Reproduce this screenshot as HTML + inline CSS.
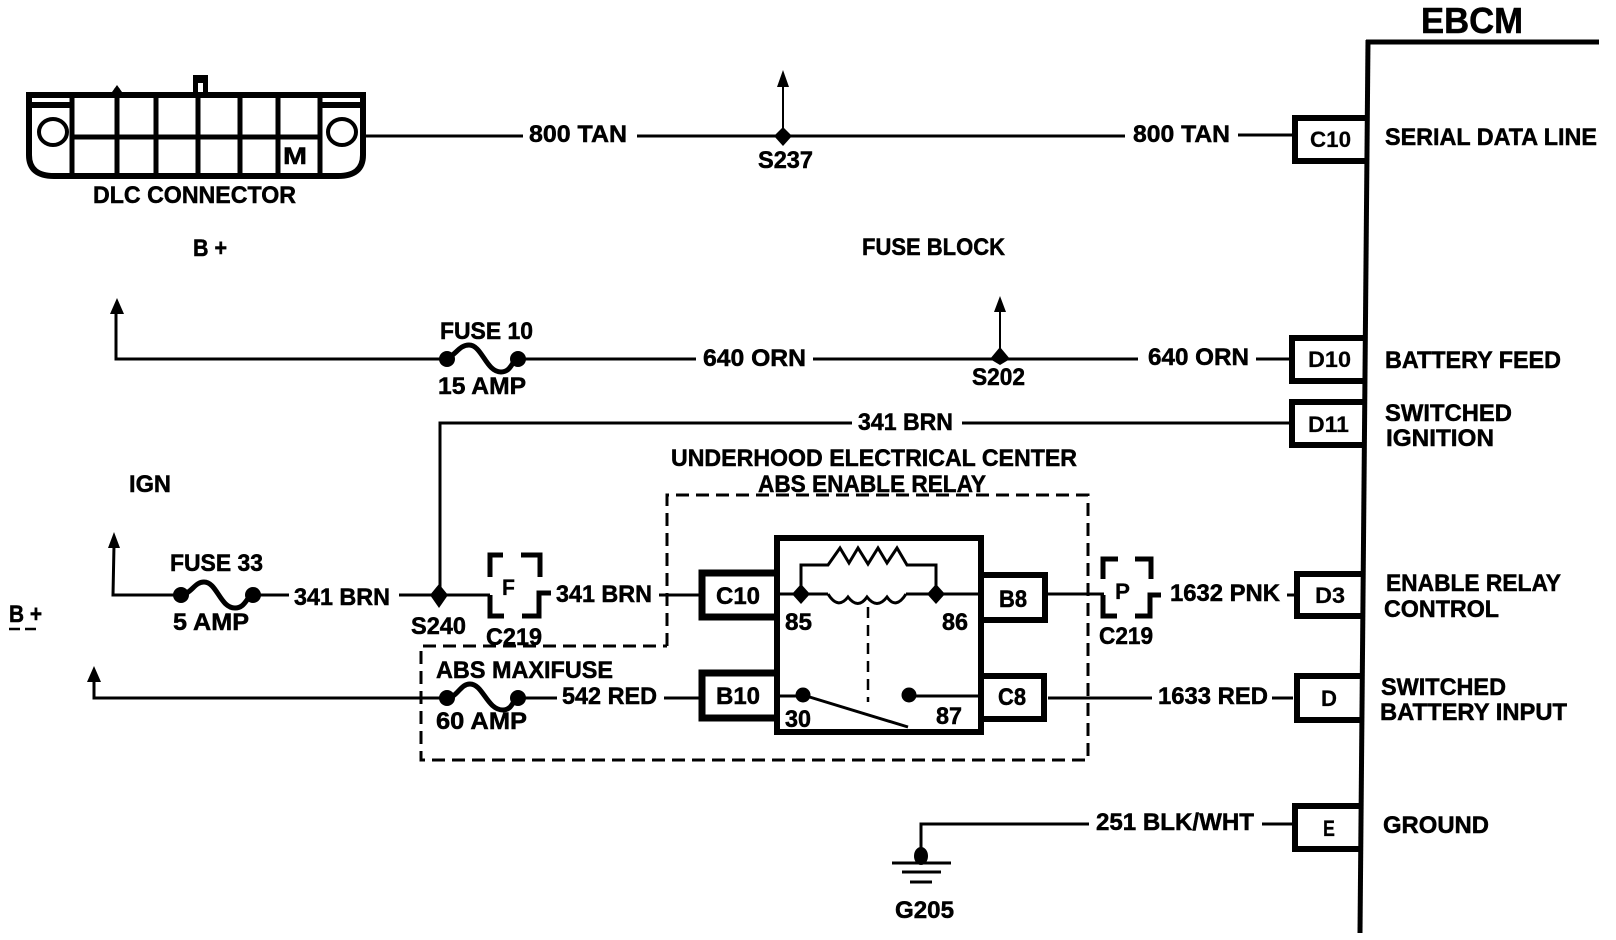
<!DOCTYPE html>
<html><head><meta charset="utf-8">
<style>
html,body{margin:0;padding:0;background:#fff;width:1616px;height:940px;overflow:hidden}
svg{display:block}
text{font-family:"Liberation Sans",sans-serif;font-weight:bold;font-size:24px;fill:#000;stroke:#000;stroke-width:.5px}
.s{font-size:22px;stroke-width:.2px}
</style></head><body>
<svg width="1616" height="940" viewBox="0 0 1616 940" xmlns="http://www.w3.org/2000/svg">
<rect width="1616" height="940" fill="#fff"/>
<g fill="none" stroke="#000" stroke-width="3">
<!-- EBCM bus -->
<path d="M1368 40 L1360 933" stroke-width="5"/>
<path d="M1366 42 H1599" stroke-width="5"/>
<!-- DLC connector -->
<path d="M29 95 H363 V155 Q363 176 338 176 H54 Q29 176 29 155 Z" stroke-width="6"/>
<g stroke-width="5">
<path d="M72 97 V176M117 88 V176M156 97 V176M198 93 V176M240 97 V176M278 137 V176M278 97 V137M320 97 V176"/>
<path d="M72 137 H320"/>
<path d="M29 105 H72" stroke-width="6"/><path d="M320 105 H363" stroke-width="6"/>
</g>
<ellipse cx="53" cy="132" rx="14" ry="13" fill="#fff" stroke-width="4"/>
<ellipse cx="342" cy="132" rx="14" ry="13" fill="#fff" stroke-width="4"/>
<!-- row 1 -->
<path d="M365 136 H523M637 136 H1125M1238 135 H1293"/>
<path d="M783 136 V85" stroke-width="2"/>
<!-- row 2 -->
<path d="M116 310 V359 H443M518 359 H696M813 359 H1138M1256 359 H1290"/>
<path d="M1000 358 V310" stroke-width="2"/>
<path d="M443 359 C455 358 458 345 469 345 C482 345 486 372 501 372 C512 372 512 359 518 359" stroke-width="5"/>
<!-- row 3 -->
<path d="M440 595 V423 H852M962 423 H1289"/>
<!-- row 4 -->
<path d="M114 545 L113 595 H180M253 595 H289M399 595 H490M659 595 H700"/>
<path d="M180 595 C192 594 194 582 204 582 C217 582 220 608 235 608 C246 608 247 595 253 595" stroke-width="5"/>
<!-- F bracket -->
<path d="M490 577 V555 H503M521 555 H540 V577M490 595 V616 H504M522 616 H539 V593 H551" stroke-width="5"/>
<!-- row 5 -->
<path d="M94 678 V698 H447M518 698 H557M664 698 H700"/>
<path d="M447 698 C458 697 460 684 470 684 C483 684 487 710 503 710 C513 710 513 698 518 698" stroke-width="5"/>
<!-- relay connector boxes -->
<path d="M776 573 H702 V617 H776" stroke-width="7"/>
<path d="M776 673 H702 V718 H776" stroke-width="7"/>
<path d="M981 575 H1045 V620 H981" stroke-width="6"/>
<path d="M981 676 H1044 V719 H981" stroke-width="6"/>
<rect x="777" y="538" width="204" height="194" stroke-width="6"/>
<!-- relay internals -->
<path d="M776 594 H828M906 594 H980"/>
<path d="M801 594 V565 H828 L840 548 L849 563 L858 548 L868 564 L878 548 L887 563 L897 548 L907 565 H936 V594" stroke-width="3"/>
<path d="M828 594 Q838 610 848 597 Q858 610 867 597 Q877 610 887 597 Q896 610 906 594" stroke-width="3"/>
<path d="M868 607 V702" stroke-width="2.5" stroke-dasharray="11 7"/>
<path d="M776 696 H803M909 696 H980"/>
<path d="M803 695 L908 727" stroke-width="3"/>
<!-- dashed enclosure -->
<path d="M667 646 V495 H1088 V760 H421 V646 H667" stroke-width="3" stroke-dasharray="13 7"/>
<!-- right of relay -->
<path d="M1048 594 H1104M1048 698 H1152M1272 698 H1293M1287 595 H1295"/>
<!-- P bracket -->
<path d="M1103 579 V559 H1118M1135 559 H1151 V579M1103 595 V616 H1117M1135 616 H1150 V595 H1161" stroke-width="5"/>
<!-- ground -->
<path d="M1089 824 H921 V853M1262 824 H1293"/>
<path d="M892 863 H951M902 872 H941M910 882 H932"/>
<!-- EBCM connector boxes -->
<path d="M1368 118 H1295 V161 H1366" stroke-width="6"/>
<path d="M1366 338 H1292 V381 H1366" stroke-width="6"/>
<path d="M1366 402 H1292 V445 H1366" stroke-width="6"/>
<path d="M1363 574 H1297 V616 H1363" stroke-width="6"/>
<path d="M1363 676 H1297 V720 H1363" stroke-width="6"/>
<path d="M1361 806 H1295 V849 H1361" stroke-width="6"/>
</g>
<g fill="#000" stroke="none">
<path d="M193 75 H208 V94 H203 V83 H198 V94 H193Z"/>
<path d="M783 70 L789 87 H777Z"/><path d="M1000 296 L1006 312 H994Z"/>
<path d="M117 298 L124 314 H110Z"/><path d="M114 532 L120 548 H108Z"/><path d="M94 666 L101 682 H87Z"/>
<path d="M112 92 L117 85 L122 92Z"/>
<path d="M783 127 L792 136 L783 146 L774 136Z"/>
<path d="M1000 347 L1010 359 L1000 365 L990 359Z"/>
<path d="M439 584 L448 595 L439 608 L430 595Z"/>
<circle cx="447" cy="359" r="8"/><circle cx="518" cy="359" r="8"/>
<circle cx="181" cy="595" r="8"/><circle cx="253" cy="595" r="8"/>
<circle cx="447" cy="698" r="8"/><circle cx="518" cy="698" r="8"/>
<path d="M801 584 L810 594 L801 604 L792 594Z"/><path d="M936 584 L945 594 L936 604 L927 594Z"/>
<circle cx="803" cy="695" r="7.5"/><circle cx="909" cy="695" r="7.5"/>
<ellipse cx="921" cy="856" rx="7" ry="9"/>
</g>
<text x="1421" y="33" textLength="102" lengthAdjust="spacingAndGlyphs" style="font-size:36px">EBCM</text>
<g transform="translate(0,-1)">
<text x="283" y="165" textLength="24" lengthAdjust="spacingAndGlyphs">M</text>
<text x="93" y="204" textLength="203" lengthAdjust="spacingAndGlyphs">DLC CONNECTOR</text>
<text x="193" y="257" textLength="34" lengthAdjust="spacingAndGlyphs">B +</text>
<text x="862" y="256" textLength="143" lengthAdjust="spacingAndGlyphs">FUSE BLOCK</text>
<text x="529" y="143" textLength="98" lengthAdjust="spacingAndGlyphs">800 TAN</text>
<text x="1133" y="143" textLength="97" lengthAdjust="spacingAndGlyphs">800 TAN</text>
<text x="758" y="169" textLength="55" lengthAdjust="spacingAndGlyphs">S237</text>
<text x="440" y="340" textLength="93" lengthAdjust="spacingAndGlyphs">FUSE 10</text>
<text x="438" y="395" textLength="88" lengthAdjust="spacingAndGlyphs">15 AMP</text>
<text x="703" y="367" textLength="103" lengthAdjust="spacingAndGlyphs">640 ORN</text>
<text x="1148" y="366" textLength="101" lengthAdjust="spacingAndGlyphs">640 ORN</text>
<text x="972" y="386" textLength="53" lengthAdjust="spacingAndGlyphs">S202</text>
<text x="858" y="431" textLength="95" lengthAdjust="spacingAndGlyphs">341 BRN</text>
<text x="671" y="467" textLength="406" lengthAdjust="spacingAndGlyphs">UNDERHOOD ELECTRICAL CENTER</text>
<text x="758" y="493" textLength="228" lengthAdjust="spacingAndGlyphs">ABS ENABLE RELAY</text>
<text x="129" y="493" textLength="42" lengthAdjust="spacingAndGlyphs">IGN</text>
<text x="170" y="572" textLength="93" lengthAdjust="spacingAndGlyphs">FUSE 33</text>
<text x="173" y="631" textLength="76" lengthAdjust="spacingAndGlyphs">5 AMP</text>
<text x="294" y="606" textLength="96" lengthAdjust="spacingAndGlyphs">341 BRN</text>
<text x="411" y="635" textLength="55" lengthAdjust="spacingAndGlyphs">S240</text>
<text x="502" y="596" class="s" textLength="13" lengthAdjust="spacingAndGlyphs">F</text>
<text x="486" y="646" textLength="56" lengthAdjust="spacingAndGlyphs">C219</text>
<text x="556" y="603" textLength="96" lengthAdjust="spacingAndGlyphs">341 BRN</text>
<text x="9" y="623" textLength="33" lengthAdjust="spacingAndGlyphs">B +</text>
<path d="M9 630 H36" stroke="#000" stroke-width="2.5" stroke-dasharray="11 5"/>
<text x="436" y="679" textLength="177" lengthAdjust="spacingAndGlyphs">ABS MAXIFUSE</text>
<text x="436" y="730" textLength="91" lengthAdjust="spacingAndGlyphs">60 AMP</text>
<text x="562" y="705" textLength="95" lengthAdjust="spacingAndGlyphs">542 RED</text>
<text x="716" y="605" textLength="44" lengthAdjust="spacingAndGlyphs">C10</text>
<text x="716" y="705" textLength="44" lengthAdjust="spacingAndGlyphs">B10</text>
<text x="999" y="608" textLength="28" lengthAdjust="spacingAndGlyphs">B8</text>
<text x="998" y="706" textLength="28" lengthAdjust="spacingAndGlyphs">C8</text>
<text x="785" y="631" textLength="27" lengthAdjust="spacingAndGlyphs">85</text>
<text x="942" y="631" textLength="26" lengthAdjust="spacingAndGlyphs">86</text>
<text x="785" y="728" textLength="26" lengthAdjust="spacingAndGlyphs">30</text>
<text x="936" y="725" textLength="26" lengthAdjust="spacingAndGlyphs">87</text>
<text x="1115" y="600" class="s" textLength="15" lengthAdjust="spacingAndGlyphs">P</text>
<text x="1099" y="645" textLength="54" lengthAdjust="spacingAndGlyphs">C219</text>
<text x="1170" y="602" textLength="110" lengthAdjust="spacingAndGlyphs">1632 PNK</text>
<text x="1158" y="705" textLength="110" lengthAdjust="spacingAndGlyphs">1633 RED</text>
<text x="1096" y="831" textLength="158" lengthAdjust="spacingAndGlyphs">251 BLK/WHT</text>
<text x="895" y="919" textLength="59" lengthAdjust="spacingAndGlyphs">G205</text>
<text x="1310" y="148" class="s" textLength="41" lengthAdjust="spacingAndGlyphs">C10</text>
<text x="1308" y="368" class="s" textLength="43" lengthAdjust="spacingAndGlyphs">D10</text>
<text x="1308" y="433" class="s" textLength="41" lengthAdjust="spacingAndGlyphs">D11</text>
<text x="1315" y="604" class="s" textLength="30" lengthAdjust="spacingAndGlyphs">D3</text>
<text x="1321" y="707" class="s" textLength="16" lengthAdjust="spacingAndGlyphs">D</text>
<text x="1323" y="837" class="s" textLength="12" lengthAdjust="spacingAndGlyphs">E</text>
<text x="1385" y="146" textLength="212" lengthAdjust="spacingAndGlyphs">SERIAL DATA LINE</text>
<text x="1385" y="369" textLength="176" lengthAdjust="spacingAndGlyphs">BATTERY FEED</text>
<text x="1385" y="422" textLength="127" lengthAdjust="spacingAndGlyphs">SWITCHED</text>
<text x="1386" y="447" textLength="108" lengthAdjust="spacingAndGlyphs">IGNITION</text>
<text x="1386" y="592" textLength="175" lengthAdjust="spacingAndGlyphs">ENABLE RELAY</text>
<text x="1384" y="618" textLength="115" lengthAdjust="spacingAndGlyphs">CONTROL</text>
<text x="1381" y="696" textLength="125" lengthAdjust="spacingAndGlyphs">SWITCHED</text>
<text x="1380" y="721" textLength="187" lengthAdjust="spacingAndGlyphs">BATTERY INPUT</text>
<text x="1383" y="834" textLength="106" lengthAdjust="spacingAndGlyphs">GROUND</text>
</g>
</svg>
</body></html>
